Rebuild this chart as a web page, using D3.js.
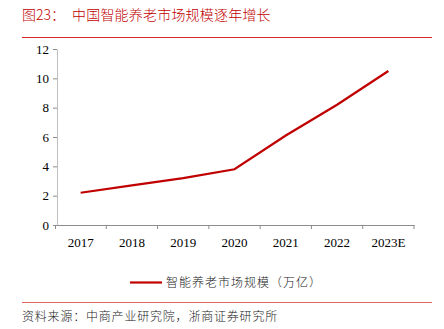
<!DOCTYPE html>
<html>
<head>
<meta charset="utf-8">
<script src="https://cdn.jsdelivr.net/npm/d3@7"></script>
<style>
  html, body { margin: 0; padding: 0; background: #fff; }
  svg { display: block; }
</style>
</head>
<body>
<svg id="chart" width="444" height="329"></svg>
<script>
// Market size by year (万亿)
const years = ["2017", "2018", "2019", "2020", "2021", "2022", "2023E"];
const marketSize = [2.2, 2.7, 3.2, 3.8, 6.1, 8.2, 10.5];
const yTicks = [0, 2, 4, 6, 8, 10, 12];

const titleText = "图23：";
const titleMain = "中国智能养老市场规模逐年增长";
const legendLabel = "智能养老市场规模（万亿）";
const sourceText = "资料来源：中商产业研究院，浙商证券研究所";

const red = "#c00000";
const cjk = "'Noto Sans CJK SC', 'Noto Sans', sans-serif";
const serif = "'Liberation Serif', 'DejaVu Serif', serif";

const svg = d3.select("#chart");

// Header
svg.append("text").attr("x", 22).attr("y", 20)
  .attr("fill", red).attr("font-family", cjk).attr("font-size", 14).attr("font-weight", 300)
  .text(titleText);
svg.append("text").attr("x", 72).attr("y", 20)
  .attr("fill", red).attr("font-family", cjk).attr("font-size", 14).attr("font-weight", 300)
  .attr("letter-spacing", 0.2)
  .text(titleMain);
svg.append("line").attr("x1", 22).attr("x2", 432).attr("y1", 37.5).attr("y2", 37.5)
  .attr("stroke", "#d42a2a").attr("stroke-width", 1);

// Plot area
const plotLeft = 55, plotRight = 414, plotTop = 49, plotBottom = 225;
const x = d3.scaleBand().domain(years).range([plotLeft, plotRight]);
const y = d3.scaleLinear().domain([0, 12]).range([plotBottom, plotTop]);

const xAxis = svg.append("g").attr("transform", `translate(0,${plotBottom})`)
  .call(d3.axisBottom(x).tickSize(4).tickSizeOuter(0).tickFormat(d => d));
xAxis.select(".domain").attr("stroke", "#8c8c8c");
xAxis.selectAll(".tick line").attr("stroke", "#8c8c8c")
  .attr("transform", `translate(${x.bandwidth() / 2},0)`);
xAxis.selectAll(".tick text").attr("font-family", serif).attr("font-size", 13)
  .attr("fill", "#000").attr("dy", "1.15em");
// tick at left edge of first band
xAxis.append("line").attr("x1", plotLeft + 0.5).attr("x2", plotLeft + 0.5).attr("y1", 0).attr("y2", 4)
  .attr("stroke", "#8c8c8c");

const yAxis = svg.append("g").attr("transform", `translate(${plotLeft + 2},0)`)
  .call(d3.axisLeft(y).tickValues(yTicks).tickSize(4).tickSizeOuter(0));
yAxis.select(".domain").attr("stroke", "#bfbfbf");
yAxis.selectAll(".tick line").attr("stroke", "#8c8c8c");
yAxis.selectAll(".tick text").attr("font-family", serif).attr("font-size", 13)
  .attr("fill", "#000").attr("x", -8);

// Series line
const line = d3.line()
  .x((d, i) => x(years[i]) + x.bandwidth() / 2)
  .y(d => y(d));
svg.append("path").datum(marketSize)
  .attr("fill", "none").attr("stroke", red).attr("stroke-width", 2.2)
  .attr("d", line);

// Legend
svg.append("line").attr("x1", 130).attr("x2", 162).attr("y1", 282.5).attr("y2", 282.5)
  .attr("stroke", red).attr("stroke-width", 2.2);
svg.append("text").attr("x", 166).attr("y", 287)
  .attr("font-family", cjk).attr("font-size", 12).attr("font-weight", 300).attr("fill", "#222")
  .attr("letter-spacing", 1)
  .text(legendLabel);

// Footer
svg.append("line").attr("x1", 22).attr("x2", 432).attr("y1", 302.5).attr("y2", 302.5)
  .attr("stroke", "#e06666").attr("stroke-width", 1);
svg.append("text").attr("x", 22).attr("y", 321)
  .attr("font-family", cjk).attr("font-size", 12).attr("font-weight", 300).attr("fill", "#222")
  .attr("letter-spacing", 0.8)
  .text(sourceText);
</script>
</body>
</html>
